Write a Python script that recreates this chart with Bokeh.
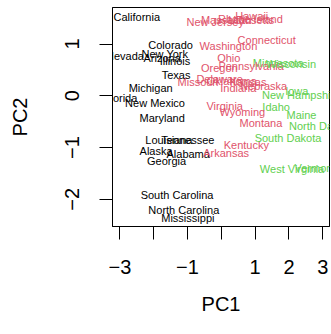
from bokeh.plotting import figure
from bokeh.models import ColumnDataSource, FixedTicker, Range1d
from bokeh.core.properties import value
from bokeh.embed import file_html
from bokeh.resources import INLINE

states = ["Alabama", "Alaska", "Arizona", "Arkansas", "California", "Colorado",
          "Connecticut", "Delaware", "Florida", "Georgia", "Hawaii", "Idaho",
          "Illinois", "Indiana", "Iowa", "Kansas", "Kentucky", "Louisiana",
          "Maine", "Maryland", "Massachusetts", "Michigan", "Minnesota",
          "Mississippi", "Missouri", "Montana", "Nebraska", "Nevada",
          "New Hampshire", "New Jersey", "New Mexico", "New York",
          "North Carolina", "North Dakota", "Ohio", "Oklahoma", "Oregon",
          "Pennsylvania", "Rhode Island", "South Carolina", "South Dakota",
          "Tennessee", "Texas", "Utah", "Vermont", "Virginia", "Washington",
          "West Virginia", "Wisconsin", "Wyoming"]
pc1 = [-0.98, -1.93, -1.75, 0.14, -2.50, -1.50, 1.34, -0.05, -2.98, -1.62,
       0.90, 1.62, -1.37, 0.50, 2.23, 0.79, 0.74, -1.55, 2.37, -1.75,
       0.48, -2.09, 1.68, -0.99, -0.69, 1.17, 1.25, -2.85, 2.36, -0.18,
       -1.96, -1.67, -1.11, 2.96, 0.22, 0.31, -0.06, 0.88, 0.86, -1.31,
       1.97, -0.99, -1.34, 0.55, 2.77, 0.10, 0.21, 2.09, 2.06, 0.62]
pc2 = [-1.12, -1.06, 0.74, -1.11, 1.53, 0.98, 1.08, 0.32, -0.04, -1.27,
       1.55, -0.21, 0.67, 0.15, 0.10, 0.27, -0.95, -0.86, -0.37, -0.42,
       1.46, 0.15, 0.63, -2.37, 0.26, -0.53, 0.19, 0.77, 0.02, 1.43,
       -0.14, 0.81, -2.21, -0.59, 0.73, 0.28, 0.54, 0.57, 1.48, -1.91,
       -0.82, -0.85, 0.41, 1.46, -1.39, -0.20, 0.96, -1.41, 0.61, -0.32]
cluster = [1, 1, 1, 2, 1, 1, 2, 2, 1, 1,
           2, 3, 1, 2, 3, 2, 2, 1, 3, 1,
           2, 1, 3, 1, 2, 2, 2, 1, 3, 2,
           1, 1, 1, 3, 2, 2, 2, 2, 2, 1,
           3, 1, 1, 2, 3, 2, 2, 3, 3, 2]
cluster_colors = {1: "#000000", 2: "#DF536B", 3: "#61D04F"}
x_ticks = [-3, -2, -1, 0, 1, 2, 3]
x_tick_labels = ["−3", "", "−1", "", "1", "2", "3"]
y_ticks = [-2, -1, 0, 1]
y_tick_labels = ["−2", "−1", "0", "1"]

FONT = "Liberation Sans"

def padded(vals):
    lo, hi = min(vals), max(vals)
    d = (hi - lo) * 0.04
    return lo - d, hi + d

xr = padded(pc1)
yr = padded(pc2)

src = ColumnDataSource(dict(x=pc1, y=pc2, name=states,
                            color=[cluster_colors[c] for c in cluster]))

p = figure(width=331, height=334, output_backend="svg", toolbar_location=None,
           x_range=Range1d(*xr), y_range=Range1d(*yr),
           min_border_left=112, min_border_right=2, min_border_top=7,
           min_border_bottom=108)
p.background_fill_color = "white"
p.border_fill_color = "white"
p.outline_line_color = "black"
p.outline_line_width = 1
p.xgrid.visible = False
p.ygrid.visible = False

p.text(x="x", y="y", text="name", text_color="color", source=src,
       text_font=value(FONT), text_font_size="11px",
       text_align="center", text_baseline="middle")

for ax in (p.xaxis[0], p.yaxis[0]):
    ax.axis_line_color = "black"
    ax.major_tick_line_color = "black"
    ax.major_tick_in = 0
    ax.major_tick_out = 13
    ax.minor_tick_line_color = None
    ax.major_label_text_font = FONT
    ax.major_label_text_font_size = "20px"
    ax.major_label_text_color = "black"
    ax.axis_label_text_font = FONT
    ax.axis_label_text_font_size = "20px"
    ax.axis_label_text_font_style = "normal"
    ax.axis_label_text_color = "black"

p.xaxis.ticker = FixedTicker(ticks=x_ticks)
p.xaxis.major_label_overrides = {t: l for t, l in zip(x_ticks, x_tick_labels)}
p.xaxis.axis_label = "PC1"
p.xaxis.major_label_standoff = 20
p.xaxis.axis_label_standoff = 16

p.yaxis.ticker = FixedTicker(ticks=y_ticks)
p.yaxis.major_label_overrides = {t: l for t, l in zip(y_ticks, y_tick_labels)}
p.yaxis.major_label_orientation = "vertical"
p.yaxis.axis_label = "PC2"
p.yaxis.major_label_standoff = 20
p.yaxis.axis_label_standoff = 32

open("out.html", "w").write(file_html(p, INLINE))
